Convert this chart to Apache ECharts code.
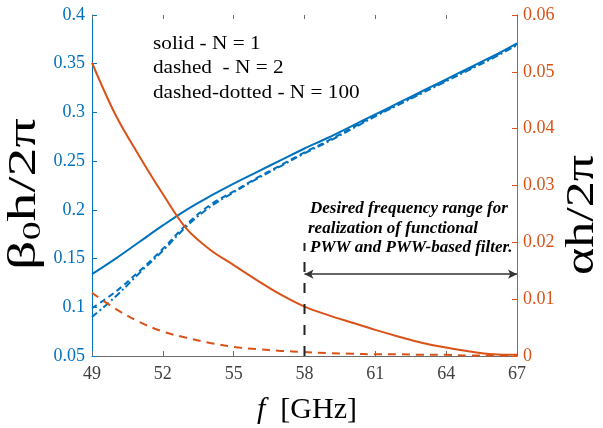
<!DOCTYPE html>
<html>
<head>
<meta charset="utf-8">
<script src="https://cdn.jsdelivr.net/npm/echarts@6/dist/echarts.min.js"></script>
<style>
  html, body { margin: 0; padding: 0; background: #fff; }
  #chart { width: 603px; height: 428px; }
</style>
</head>
<body>
<div id="chart"></div>
<script>
// Frequency samples [GHz]
const freq = [49, 50, 51, 52, 53, 54, 55, 56, 57, 58, 59, 60, 61, 62, 63, 64, 65, 66, 67];

// Normalised phase constant beta0*h/2pi (left axis)
const betaN1   = [0.134, 0.150, 0.167, 0.184, 0.200, 0.214, 0.227, 0.239, 0.251, 0.263, 0.274, 0.286, 0.298, 0.310, 0.322, 0.334, 0.346, 0.358, 0.371];
const betaN2   = [0.099, 0.116, 0.137, 0.160, 0.185, 0.205, 0.219, 0.233, 0.246, 0.259, 0.271, 0.284, 0.297, 0.309, 0.321, 0.333, 0.345, 0.357, 0.370];
const betaN100 = [0.090, 0.111, 0.135, 0.158, 0.183, 0.203, 0.218, 0.232, 0.245, 0.258, 0.270, 0.283, 0.296, 0.308, 0.320, 0.332, 0.344, 0.356, 0.369];

// Normalised attenuation constant alpha*h/2pi (right axis)
const alphaN1 = [0.0516, 0.0424, 0.0352, 0.0285, 0.0224, 0.0187, 0.0160, 0.0133, 0.0108, 0.0087, 0.0072, 0.0059, 0.0046, 0.0034, 0.0023, 0.0015, 0.0008, 0.0003, 0.0002];
const alphaN2 = [0.0111, 0.0083, 0.0060, 0.0043, 0.0032, 0.0023, 0.0016, 0.0012, 0.0009, 0.0007, 0.0005, 0.0004, 0.0003, 0.0003, 0.0002, 0.0002, 0.0001, 0.0001, 0.0001];

// Tick labels
const xTicks = [49, 52, 55, 58, 61, 64, 67];

// Desired operating band
const bandStart = 58;
const bandEnd = 67;
const bandMarkerTop = 0.0199;   // top of the vertical marker (right-axis units)
const bandArrowLevel = 0.0144;  // height of the double arrow (right-axis units)

const BLUE = '#0072BD';
const ORANGE = '#D95319';
const SERIF = '"Liberation Serif", "DejaVu Serif", serif';

const pairs = (xs, ys) => xs.map((x, i) => [x, ys[i]]);
const fmt = v => String(parseFloat(v.toFixed(3)));

// Text measuring helper for the rotated axis titles
const measureCtx = document.createElement('canvas').getContext('2d');
function textWidth(text, size) {
  measureCtx.font = size + 'px ' + SERIF;
  return measureCtx.measureText(text).width;
}

// Builds a vertical (bottom-to-top) title from pieces, centred on (cx, cy)
function verticalTitle(parts, cx, cy, stretch) {
  const widths = parts.map(p => textWidth(p.text, p.size));
  const total = widths.reduce((a, b) => a + b, 0);
  let pos = -total / 2;
  const children = parts.map((p, i) => {
    const el = {
      type: 'text', x: pos, y: p.dy || 0,
      style: { text: p.text, fill: '#000', font: p.size + 'px ' + SERIF, align: 'left', verticalAlign: 'middle' }
    };
    pos += widths[i];
    return el;
  });
  return { type: 'group', x: cx, y: cy, rotation: Math.PI / 2, scaleX: stretch, children };
}

const chart = echarts.init(document.getElementById('chart'), null, { renderer: 'canvas' });

const lineSeries = (name, axis, values, color, dash, z) => ({
  name, type: 'line', yAxisIndex: axis, data: pairs(freq, values),
  showSymbol: false, smooth: 0.35,
  lineStyle: { color, width: 2, type: dash || 'solid' }, z
});

const option = {
  animation: false,
  backgroundColor: '#fff',
  grid: { left: 92, right: 86, top: 15, bottom: 72 },
  xAxis: [
    {
      type: 'value', min: 49, max: 67, position: 'bottom',
      axisLine: { show: true, lineStyle: { color: '#6b6b6b', width: 1 } },
      axisTick: { show: true, inside: true, length: 5, customValues: xTicks, lineStyle: { color: '#6b6b6b' } },
      axisLabel: { customValues: xTicks, color: '#404040', fontFamily: SERIF, fontSize: 18, margin: 9 },
      splitLine: { show: false }
    },
    {
      type: 'value', min: 49, max: 67, position: 'top',
      axisLine: { show: false },
      axisTick: { show: true, inside: true, length: 4, customValues: xTicks, lineStyle: { color: '#6b6b6b' } },
      axisLabel: { show: false },
      splitLine: { show: false }
    }
  ],
  yAxis: [
    {
      type: 'value', min: 0.05, max: 0.4, interval: 0.05, position: 'left',
      axisLine: { show: true, lineStyle: { color: BLUE, width: 1 } },
      axisTick: { show: true, inside: true, length: 5, lineStyle: { color: BLUE } },
      axisLabel: { color: BLUE, fontFamily: SERIF, fontSize: 18, margin: 7, formatter: fmt },
      splitLine: { show: false }
    },
    {
      type: 'value', min: 0, max: 0.06, interval: 0.01, position: 'right',
      axisLine: { show: true, lineStyle: { color: ORANGE, width: 1 } },
      axisTick: { show: true, inside: true, length: 5, lineStyle: { color: ORANGE } },
      axisLabel: { color: ORANGE, fontFamily: SERIF, fontSize: 18, margin: 6, formatter: fmt },
      splitLine: { show: false }
    }
  ],
  series: [
    lineSeries('beta N=1', 0, betaN1, BLUE, null, 3),
    lineSeries('beta N=2', 0, betaN2, BLUE, [6, 4], 3),
    lineSeries('beta N=100', 0, betaN100, BLUE, [7, 3, 2, 3], 3),
    lineSeries('alpha N=1', 1, alphaN1, ORANGE, null, 4),
    lineSeries('alpha N=2', 1, alphaN2, ORANGE, [8, 6], 4),
    {
      // vertical marker at the start of the band, plus the double arrow spanning it
      name: 'band', type: 'line', yAxisIndex: 1,
      data: [[bandStart, 0], [bandStart, bandMarkerTop]],
      showSymbol: false, silent: true,
      lineStyle: { color: '#222', width: 2, type: [10, 11] }, z: 5,
      markLine: {
        silent: true,
        symbol: ['arrow', 'arrow'], symbolSize: [7, 9],
        label: { show: false },
        lineStyle: { color: '#333', width: 1.5, type: 'solid' },
        data: [[{ coord: [bandStart, bandArrowLevel] }, { coord: [bandEnd, bandArrowLevel] }]]
      }
    }
  ],
  graphic: [
    // y-axis titles
    verticalTitle([{ text: 'β', size: 40 }, { text: '0', size: 26, dy: 9 }, { text: 'h/2π', size: 40 }], 24, 194, 1.45),
    verticalTitle([{ text: 'αh/2π', size: 40 }], 582, 215, 1.3),
    // x-axis title
    {
      type: 'text', x: 307, y: 410,
      style: {
        text: '{i|f}{n|  [GHz]}', align: 'center', verticalAlign: 'middle',
        rich: {
          i: { fontFamily: SERIF, fontStyle: 'italic', fontSize: 30, fill: '#000' },
          n: { fontFamily: SERIF, fontSize: 30, fill: '#000' }
        }
      }
    },
    // line-style key
    {
      type: 'group', x: 153, y: 0, scaleX: 1.18,
      children: [
        { type: 'text', x: 0, y: 44, style: { text: 'solid - N = 1', verticalAlign: 'middle', fill: '#000', font: '18px ' + SERIF } },
        { type: 'text', x: 0, y: 68, style: { text: 'dashed  - N = 2', verticalAlign: 'middle', fill: '#000', font: '18px ' + SERIF } },
        { type: 'text', x: 0, y: 93, style: { text: 'dashed-dotted - N = 100', verticalAlign: 'middle', fill: '#000', font: '18px ' + SERIF } }
      ]
    },
    // band annotation
    { type: 'text', x: 310, y: 209, style: { text: 'Desired frequency range for', verticalAlign: 'middle', fill: '#000', font: 'italic bold 17px ' + SERIF } },
    { type: 'text', x: 308, y: 229, style: { text: 'realization of functional', verticalAlign: 'middle', fill: '#000', font: 'italic bold 17px ' + SERIF } },
    { type: 'text', x: 310, y: 248, style: { text: 'PWW and PWW-based filter.', verticalAlign: 'middle', fill: '#000', font: 'italic bold 17px ' + SERIF } }
  ]
};

chart.setOption(option);
</script>
</body>
</html>
